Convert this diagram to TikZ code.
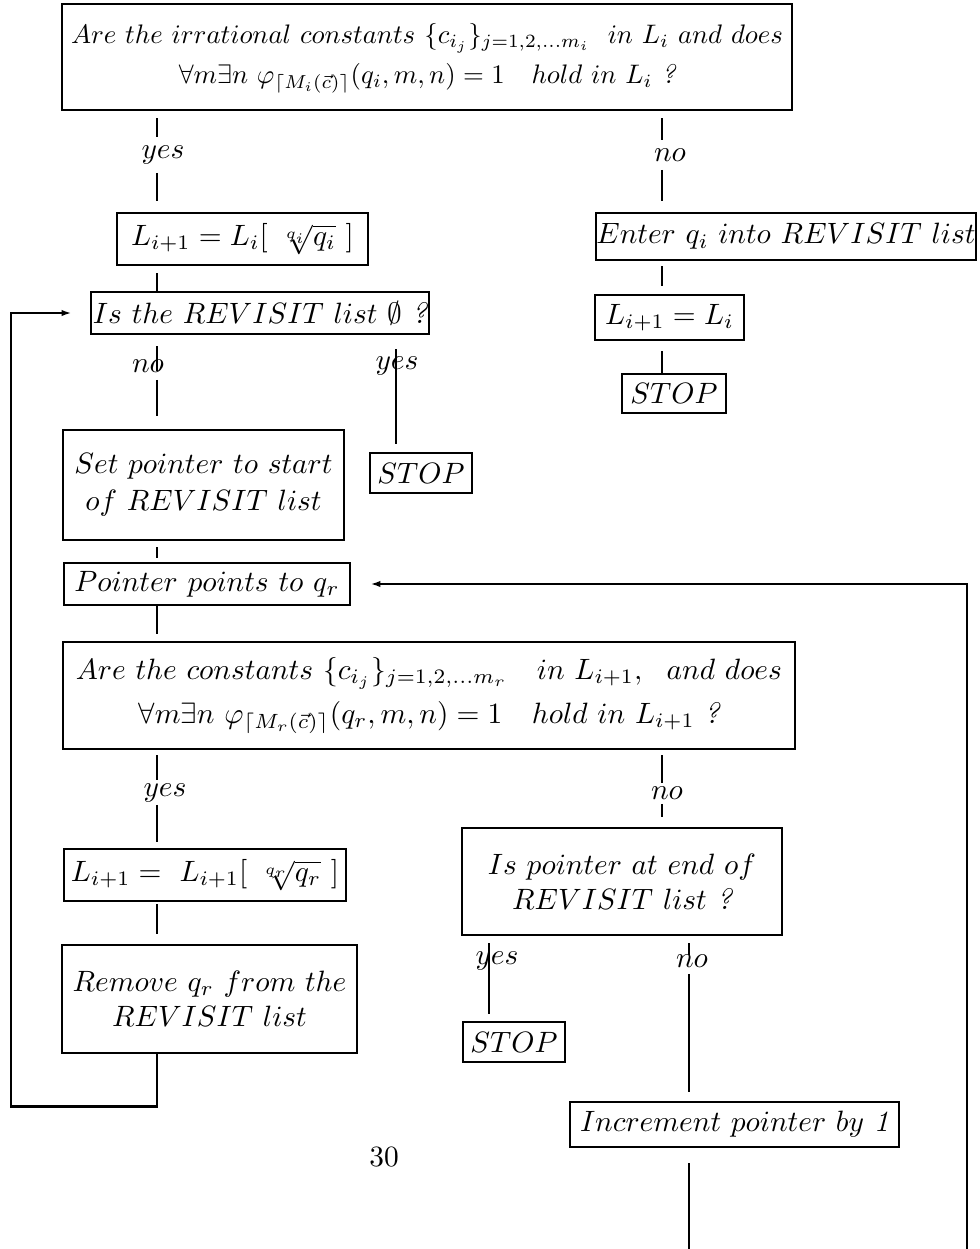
\documentclass[tikz,border=0pt]{standalone}
\usetikzlibrary{arrows.meta,fit,calc}
\newcommand\bx[4]{\node[box, fit={#2 #3}] (#1) {};\node[txt] (#1-t) at (#1.center) {#4};}
\begin{document}
\begin{tikzpicture}[x=0.34pt,y=-0.34pt,
  box/.style={draw, line width=1pt, inner sep=0pt},
  txt/.style={inner sep=0pt, align=center},
  conn/.style={line width=0.65pt},
  loopline/.style={line width=0.8pt},
  lbl/.style={inner sep=0pt},
  tip/.style={-{Latex[length=3.4pt,width=2.2pt]}}]
\useasboundingbox (0,0) rectangle (980,1249);
% column coordinates
\coordinate (cL) at (157,0);
\coordinate (cR) at (662,0);
\coordinate (cY) at (396,0);
\coordinate (cP) at (489,0);
\coordinate (cN) at (689,0);
\coordinate (cLoop) at (11,0);
\coordinate (cRight) at (967,0);
% boxes
\bx{top}{(62,4)}{(792,110)}{\scalebox{0.91}{\begin{tabular}{@{}c@{}}$Are\ the\ irrational\ constants\ \{c_{i_j}\}_{j=1,2,...m_i}\ \ in\ L_i\ and\ does$\\[3pt]
$\forall m\exists n\ \varphi_{\lceil M_i(\vec{c})\rceil}(q_i,m,n)=1\quad hold\ in\ L_i\ \textit{?}$\end{tabular}}}
\bx{L1}{(117,213)}{(368,265)}{$L_{i+1}=L_i[\ \sqrt[q_i]{q_i}\ ]$}
\bx{enter}{(596,213)}{(976,260)}{$Enter\ q_i\ into\ REVISIT\ list$}
\bx{isrev}{(91,292)}{(429,334)}{$Is\ the\ REVISIT\ list\ \emptyset\ \textit{?}$}
\bx{L2}{(595,295)}{(744,340)}{$L_{i+1}=L_i$}
\bx{stop1}{(622,374)}{(726,413)}{$STOP$}
\bx{setptr}{(63,430)}{(344,540)}{$Set\ pointer\ to\ start$\\[0.6pt]$of\ REVISIT\ list$}
\bx{stop2}{(370,453)}{(472,493)}{$STOP$}
\bx{pointer}{(64,563)}{(350,605)}{$Pointer\ points\ to\ q_r$}
\bx{big}{(63,642)}{(795,749)}{$Are\ the\ constants\ \{c_{i_j}\}_{j=1,2,...m_r}\ \ \ in\ L_{i+1},\ \ and\ does$\\[2.8pt]
$\forall m\exists n\ \varphi_{\lceil M_r(\vec{c})\rceil}(q_r,m,n)=1\quad hold\ in\ L_{i+1}\ \textit{?}$}
\bx{L3}{(64,849)}{(346,901)}{$L_{i+1}=\ L_{i+1}[\ \sqrt[q_r]{q_r}\ ]$}
\bx{isend}{(462,828)}{(782,935)}{$Is\ pointer\ at\ end\ of$\\[0pt]$REVISIT\ list\ \textit{?}$}
\bx{remove}{(62,945)}{(357,1053)}{$Remove\ q_r\ from\ the$\\[0pt]$REVISIT\ list$}
\bx{stop3}{(463,1022)}{(565,1062)}{$STOP$}
\bx{incr}{(570,1102)}{(899,1147)}{$Increment\ pointer\ by\ \textit{1}$}
% labels
\node[lbl] (yes1) at (163,155) {$yes$};
\node[lbl] (no1) at (670,155) {$no$};
\node[lbl] (no2) at (148,366) {$no$};
\node[lbl] (yes2) at (397,366) {$yes$};
\node[lbl] (yes3) at (165,793) {$yes$};
\node[lbl] (no3) at (667,793) {$no$};
\node[lbl] (yes4) at (497,961) {$yes$};
\node[lbl] (no4) at (692,961) {$no$};
\node[lbl] (page) at (384,1157) {30};
% connectors
\draw[conn] ($(top.south-|cL)+(0,7)$) -- ($(yes1.north-|cL)+(0,-8)$);
\draw[conn] ($(yes1.south-|cL)+(0,8)$) -- ($(L1.north-|cL)+(0,-11)$);
\draw[conn] ($(top.south-|cR)+(0,7)$) -- ($(no1.north-|cR)+(0,-8)$);
\draw[conn] ($(no1.south-|cR)+(0,8)$) -- ($(enter.north-|cR)+(0,-11)$);
\draw[conn] ($(L1.south-|cL)+(0,7)$) -- (isrev.north-|cL);
\draw[conn] ($(enter.south-|cR)+(0,5)$) -- ($(L2.north-|cR)+(0,-8)$);
\draw[conn] ($(L2.south-|cR)+(0,10)$) -- (stop1.north-|cR);
\draw[conn] ($(isrev.south-|cL)+(0,11)$) -- ($(no2.south-|cL)+(0,-2)$);
\draw[conn] ($(no2.south-|cL)+(0,7)$) -- ($(setptr.north-|cL)+(0,-13)$);
\draw[conn] ($(isrev.south-|cY)+(0,14)$) -- ($(stop2.north-|cY)+(0,-8)$);
\draw[conn] ($(setptr.south-|cL)+(0,6)$) -- ($(pointer.north-|cL)+(0,-4)$);
\draw[conn] (pointer.south-|cL) -- ($(big.north-|cL)+(0,-7)$);
\draw[conn] ($(big.south-|cL)+(0,5)$) -- ($(yes3.north-|cL)+(0,-3)$);
\draw[conn] ($(yes3.south-|cL)+(0,2)$) -- ($(L3.north-|cL)+(0,-6)$);
\draw[conn] ($(big.south-|cR)+(0,5)$) -- ($(no3.north-|cR)+(0,-3)$);
\draw[conn] ($(no3.south-|cR)+(0,4)$) -- ($(isend.north-|cR)+(0,-10)$);
\draw[conn] ($(L3.south-|cL)+(0,2)$) -- ($(remove.north-|cL)+(0,-10)$);
\draw[conn] ($(isend.south-|cP)+(0,7)$) -- ($(stop3.north-|cP)+(0,-7)$);
\draw[conn] ($(isend.south-|cN)+(0,7)$) -- ($(no4.north-|cN)+(0,1)$);
\draw[conn] ($(no4.south-|cN)+(0,6)$) -- ($(incr.north-|cN)+(0,-9)$);
\coordinate (endA) at (689,1249);
\coordinate (endB) at (967,1249);
\draw[conn] ($(incr.south-|cN)+(0,15)$) -- (endA);
% loops
\draw[loopline, tip] (remove.south-|cL) -- ++(0,52) -| (cLoop|-isrev.west) -- ($(isrev.west)+(-18,0)$);
\draw[conn, tip] (endB) -- (cRight|-pointer.east) -- ($(pointer.east)+(19,0)$);
\end{tikzpicture}
\end{document}
